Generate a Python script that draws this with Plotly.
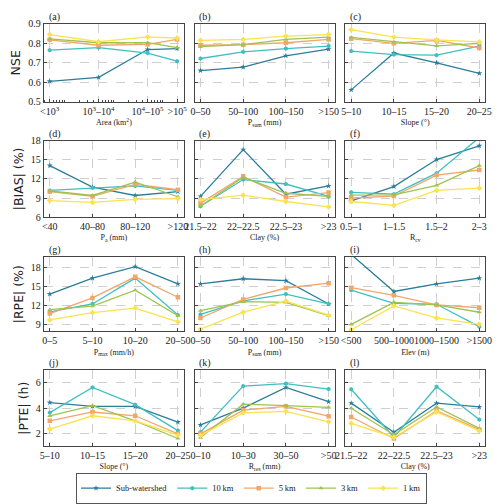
import plotly.graph_objects as go

series_names = ["Sub-watershed", "10\u2009km", "5\u2009km", "3\u2009km", "1\u2009km"]
colors = ["#2b7d9c", "#3fbfc0", "#f2a66a", "#9ec34f", "#fbe24f"]
symbols = ["star", "hexagon", "square", "triangle-up", "diamond"]

# (a) NSE vs Area
a_cats = ["<10<sup>3</sup>", "10<sup>3</sup>\u201310<sup>4</sup>", "10<sup>4</sup>\u201310<sup>5</sup>", ">10<sup>5</sup>"]
a_pos = [500, 5000, 50000, 200000]
a_vals = [[0.605, 0.625, 0.768, 0.773],
          [0.765, 0.778, 0.750, 0.708],
          [0.818, 0.790, 0.795, 0.820],
          [0.823, 0.803, 0.803, 0.778],
          [0.845, 0.808, 0.833, 0.827]]
# (b) NSE vs Psum
b_cats = ["0\u201350", "50\u2013100", "100\u2013150", ">150"]
b_vals = [[0.660, 0.678, 0.736, 0.770],
          [0.722, 0.756, 0.773, 0.786],
          [0.790, 0.793, 0.803, 0.820],
          [0.783, 0.793, 0.820, 0.832],
          [0.815, 0.820, 0.837, 0.845]]
# (c) NSE vs Slope
c_cats = ["5\u201310", "10\u201315", "15\u201320", "20\u201325"]
c_vals = [[0.561, 0.750, 0.700, 0.646],
          [0.760, 0.742, 0.739, 0.786],
          [0.824, 0.800, 0.815, 0.776],
          [0.830, 0.807, 0.787, 0.800],
          [0.870, 0.832, 0.818, 0.807]]
# (d) |BIAS| vs Pa
d_cats = ["<40", "40\u201380", "80\u2013120", ">120"]
d_vals = [[14.1, 10.7, 9.4, 10.0],
          [10.2, 10.6, 10.9, 10.2],
          [10.0, 9.25, 11.15, 10.3],
          [10.1, 9.4, 11.5, 9.2],
          [8.6, 8.3, 8.8, 8.9]]
# (e) |BIAS| vs Clay
e_cats = ["21.5\u201322", "22\u201322.5", "22.5\u201323", ">23"]
e_vals = [[9.25, 16.6, 9.6, 10.9],
          [7.7, 11.9, 11.2, 9.25],
          [8.2, 12.4, 9.15, 9.85],
          [7.75, 12.25, 9.75, 9.25],
          [8.75, 9.45, 8.45, 7.6]]
# (f) |BIAS| vs Rcv
f_cats = ["0.5\u20131", "1\u20131.5", "1.5\u20132", "2\u20133"]
f_vals = [[8.55, 10.8, 15.05, 17.2],
          [9.9, 9.6, 12.9, 18.5],
          [9.0, 9.3, 12.6, 13.4],
          [9.45, 9.5, 11.0, 14.1],
          [8.45, 7.85, 10.2, 10.55]]
# (g) |RPE| vs Pmax
g_cats = ["0\u20135", "5\u201310", "10\u201320", "20\u201350"]
g_vals = [[13.8, 16.3, 18.1, 15.4],
          [11.0, 12.25, 16.3, 10.5],
          [10.75, 13.2, 16.5, 13.3],
          [11.35, 11.9, 14.4, 10.4],
          [9.75, 10.9, 11.6, 9.45]]
# (h) |RPE| vs Psum
h_cats = ["0\u201350", "50\u2013100", "100\u2013150", ">150"]
h_vals = [[15.4, 16.2, 15.9, 12.25],
          [10.6, 12.75, 13.8, 12.25],
          [10.05, 12.95, 14.75, 15.5],
          [11.2, 12.6, 12.5, 10.4],
          [8.3, 10.95, 12.7, 10.5]]
# (i) |RPE| vs Elev
i_cats = ["<500", "500\u20131000", "1000\u20131500", ">1500"]
i_vals = [[20.0, 14.2, 15.4, 16.3],
          [14.4, 12.35, 12.2, 8.7],
          [14.8, 13.6, 12.1, 11.65],
          [9.05, 12.5, 12.1, 10.95],
          [8.2, 11.95, 10.05, 9.05]]
# (j) |PTE| vs Slope
j_cats = ["5\u201310", "10\u201315", "15\u201320", "20\u201325"]
j_vals = [[4.45, 4.15, 4.15, 2.9],
          [3.65, 5.65, 4.28, 2.22],
          [3.0, 3.7, 3.4, 1.97],
          [3.4, 4.2, 3.0, 1.6],
          [2.35, 3.4, 3.0, 1.87]]
# (k) |PTE| vs Rres
k_cats = ["0\u201310", "10\u201330", "30\u201350", ">50"]
k_vals = [[2.68, 4.0, 5.65, 4.52],
          [2.1, 5.75, 5.95, 5.52],
          [1.97, 3.85, 4.15, 3.37],
          [1.67, 4.32, 4.2, 4.07],
          [1.85, 3.63, 3.75, 2.92]]
# (l) |PTE| vs Clay
l_cats = ["21.5\u201322", "22\u201322.5", "22.5\u201323", ">23"]
l_vals = [[4.4, 2.1, 4.4, 4.1],
          [5.5, 1.7, 5.7, 3.1],
          [3.3, 1.6, 3.8, 2.3],
          [4.0, 1.9, 4.1, 2.4],
          [2.8, 1.7, 3.7, 2.2]]

x_titles = ["Area (km<sup>2</sup>)", "P<sub>sum</sub> (mm)", "Slope (\u00b0)",
            "P<sub>a</sub> (mm)", "Clay (%)", "R<sub>cv</sub>",
            "P<sub>max</sub> (mm/h)", "P<sub>sum</sub> (mm)", "Elev (m)",
            "Slope (\u00b0)", "R<sub>res</sub> (mm)", "Clay (%)"]
y_titles = ["NSE", "|BIAS| (%)", "|RPE| (%)", "|PTE| (h)"]
y_ranges = [[0.5, 0.9], [6, 18], [7.95, 19.6], [1, 7]]
y_ticks = [[0.5, 0.6, 0.7, 0.8, 0.9], [6, 9, 12, 15, 18], [9, 12, 15, 18], [2, 4, 6]]
panel_labels = ["(a)", "(b)", "(c)", "(d)", "(e)", "(f)", "(g)", "(h)", "(i)", "(j)", "(k)", "(l)"]

panels = [(a_cats, a_vals), (b_cats, b_vals), (c_cats, c_vals),
          (d_cats, d_vals), (e_cats, e_vals), (f_cats, f_vals),
          (g_cats, g_vals), (h_cats, h_vals), (i_cats, i_vals),
          (j_cats, j_vals), (k_cats, k_vals), (l_cats, l_vals)]

W, H = 500, 504
col_px = [(35, 180), (191, 336), (347, 492)]
row_px = [(18.3, 98.3), (138.3, 216.7), (257.7, 334), (374, 451.7)]

SERIF = "Liberation Serif"
AX = "#444444"
GRID = "#cfcfcf"
TXT = "#222222"

fig = go.Figure()
layout = {}
for idx, (cats, vals) in enumerate(panels):
    r, c = divmod(idx, 3)
    n = idx + 1
    xa = "x" if n == 1 else f"x{n}"
    ya = "y" if n == 1 else f"y{n}"
    if idx == 0:
        xs = a_pos
    else:
        xs = list(range(len(cats)))
    for s, name in enumerate(series_names):
        fig.add_trace(go.Scatter(
            x=xs, y=vals[s], mode="lines+markers", name=name,
            line=dict(color=colors[s], width=1.3),
            marker=dict(color=colors[s], symbol=symbols[s], size=4.5),
            xaxis=xa, yaxis=ya, showlegend=(idx == 0), legendgroup=name,
            cliponaxis=True))
    x0, x1 = col_px[c]
    y0, y1 = row_px[r]
    xdict = dict(
        domain=[x0 / W, x1 / W], anchor=ya,
        showline=True, mirror=True, linecolor=AX, linewidth=1.2,
        ticks="inside", ticklen=3, tickcolor=AX, tickangle=0,
        showgrid=True, gridcolor=GRID, griddash="dash", gridwidth=0.8,
        zeroline=False,
        tickfont=dict(family=SERIF, size=10, color=TXT),
        title=dict(text=x_titles[idx], font=dict(family=SERIF, size=8, color=TXT), standoff=3),
    )
    if idx == 0:
        xdict.update(type="log", range=[2.58, 5.44], tickvals=a_pos, ticktext=cats,
                     minor=dict(ticks="inside", ticklen=2, tickcolor=AX, showgrid=False, dtick="D1"))
    else:
        xdict.update(tickmode="array", tickvals=xs, ticktext=cats, range=[-0.14, 3.14])
    ydict = dict(
        domain=[1 - y1 / H, 1 - y0 / H], anchor=xa,
        range=y_ranges[r], tickvals=y_ticks[r],
        showline=True, mirror=True, linecolor=AX, linewidth=1.2,
        ticks="inside", ticklen=3, tickcolor=AX,
        showgrid=True, gridcolor=GRID, griddash="dash", gridwidth=0.8,
        zeroline=False, showticklabels=(c == 0),
        tickfont=dict(family=SERIF, size=10, color=TXT),
    )
    if c == 0:
        ydict["title"] = dict(text=y_titles[r], font=dict(family="DejaVu Sans", size=12.5, color=TXT), standoff=4)
    layout["xaxis" if n == 1 else f"xaxis{n}"] = xdict
    layout["yaxis" if n == 1 else f"yaxis{n}"] = ydict

annotations = []
for idx, lab in enumerate(panel_labels):
    r, c = divmod(idx, 3)
    annotations.append(dict(text=lab, xref="paper", yref="paper",
                            x=(col_px[c][0] + 3) / W, y=1 - row_px[r][0] / H,
                            xanchor="left", yanchor="bottom", showarrow=False,
                            font=dict(family=SERIF, size=10, color=TXT), yshift=-1))

fig.update_layout(**layout)
fig.update_layout(
    width=W, height=H, margin=dict(l=0, r=0, t=0, b=0),
    paper_bgcolor="white", plot_bgcolor="white",
    annotations=annotations,
    legend=dict(orientation="h", x=0.5, xanchor="center", y=1 - 479 / H, yanchor="top",
                bordercolor="#555", borderwidth=1, bgcolor="white",
                font=dict(family=SERIF, size=8.5, color=TXT),
                itemwidth=30, tracegroupgap=0),
)
fig.write_html("out.html")
